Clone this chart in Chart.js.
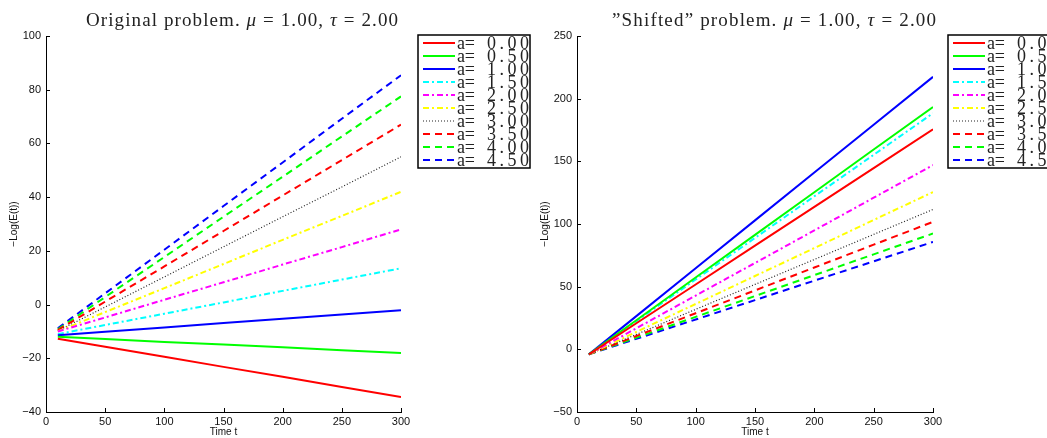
<!DOCTYPE html>
<html>
<head>
<meta charset="utf-8">
<script src="https://cdn.jsdelivr.net/npm/chart.js@4/dist/chart.umd.min.js"></script>
<style>
  html, body { margin: 0; padding: 0; background: #fff; }
  #wrap { position: relative; width: 1047px; height: 438px; }
  canvas { position: absolute; left: 0; top: 0; }
</style>
</head>
<body>
<div id="wrap">
  <canvas id="leftChart" width="1047" height="438"></canvas>
  <canvas id="rightChart" width="1047" height="438"></canvas>
</div>
<script>
// time samples (t)
const times = [10, 50, 100, 150, 200, 250, 300];
const aValues = ["0.00", "0.50", "1.00", "1.50", "2.00", "2.50", "3.00", "3.50", "4.00", "4.50"];

// Original problem, -Log(E(t))
const orig000 = [-12.7, -15.7, -19.4, -23.2, -26.9, -30.7, -34.4];
const orig050 = [-12.0, -12.8, -13.9, -14.9, -15.9, -17.0, -18.0];
const orig100 = [-11.4, -10.1, -8.5, -6.9, -5.3, -3.7, -2.1];
const orig150 = [-11.0, -7.6, -3.4, 0.8, 5.1, 9.3, 13.5];
const orig200 = [-10.0, -4.8, 1.8, 8.3, 14.9, 21.4, 28.0];
const orig250 = [-10.0, -2.8, 6.1, 15.1, 24.1, 33.0, 42.0];
const orig300 = [-9.8, -0.9, 10.3, 21.5, 32.7, 43.8, 55.0];
const orig350 = [-9.5, 1.1, 14.2, 27.4, 40.6, 53.8, 67.0];
const orig400 = [-9.2, 2.8, 17.7, 32.7, 47.6, 62.6, 77.5];
const orig450 = [-8.8, 4.2, 20.4, 36.7, 52.9, 69.2, 85.4];

// "Shifted" problem, -Log(E(t))
const shift000 = [-4, 20.8, 51.7, 82.7, 113.7, 144.6, 175.6];
const shift050 = [-4, 23.2, 57.3, 91.3, 125.3, 159.4, 193.4];
const shift100 = [-4, 26.5, 64.7, 102.9, 141.1, 179.2, 217.4];
const shift150 = [-4, 22.5, 55.7, 88.9, 122.1, 155.2, 188.4];
const shift200 = [-4, 16.8, 42.9, 68.9, 94.9, 121.0, 147.0];
const shift250 = [-4, 13.9, 36.2, 58.5, 80.8, 103.2, 125.5];
const shift300 = [-4, 11.9, 31.9, 51.8, 71.7, 91.7, 111.6];
const shift350 = [-4, 10.6, 28.8, 47.0, 65.3, 83.5, 101.7];
const shift400 = [-4, 9.3, 25.9, 42.5, 59.2, 75.8, 92.4];
const shift450 = [-4, 8.4, 23.8, 39.3, 54.8, 70.2, 85.7];

const origSeries = [orig000, orig050, orig100, orig150, orig200, orig250, orig300, orig350, orig400, orig450];
const shiftSeries = [shift000, shift050, shift100, shift150, shift200, shift250, shift300, shift350, shift400, shift450];

// matlab-ish line styles: '-', '-.', ':', '--'
const styles = [
  { color: "#ff0000", dash: [], width: 2 },
  { color: "#00ff00", dash: [], width: 2 },
  { color: "#0000ff", dash: [], width: 2 },
  { color: "#00ffff", dash: [6, 3, 2, 3], width: 2 },
  { color: "#ff00ff", dash: [6, 3, 2, 3], width: 2 },
  { color: "#ffff00", dash: [6, 3, 2, 3], width: 2 },
  { color: "#222222", dash: [1, 2], width: 1.2 },
  { color: "#ff0000", dash: [7, 5], width: 2 },
  { color: "#00ff00", dash: [7, 5], width: 2 },
  { color: "#0000ff", dash: [7, 5], width: 2 },
];

const TICK_FONT = { family: "'Liberation Sans', Arial, sans-serif", size: 11 };
const SERIF = "'Liberation Serif', 'DejaVu Serif', serif";

function makeDatasets(series) {
  return series.map((vals, i) => ({
    label: "a= " + aValues[i],
    data: vals.map((v, j) => ({ x: times[j], y: v })),
    borderColor: styles[i].color,
    borderDash: styles[i].dash,
    borderWidth: styles[i].width,
    pointRadius: 0,
    tension: 0,
    fill: false,
  }));
}

// draw text pieces spread to fill a given width
function drawSpaced(ctx, parts, x0, x1, baseline, size) {
  let raw = 0, n = 0;
  parts.forEach(p => {
    ctx.font = (p.italic ? "italic " : "") + size + "px " + SERIF;
    for (const ch of p.t) { raw += ctx.measureText(ch).width; n++; }
  });
  const gap = n > 1 ? (x1 - x0 - raw) / (n - 1) : 0;
  let x = x0;
  ctx.textBaseline = "alphabetic";
  ctx.textAlign = "left";
  parts.forEach(p => {
    ctx.font = (p.italic ? "italic " : "") + size + "px " + SERIF;
    for (const ch of p.t) {
      ctx.fillText(ch, x, baseline);
      x += ctx.measureText(ch).width + gap;
    }
  });
}

function decorPlugin(cfg) {
  return {
    id: "decor",
    afterDraw(chart) {
      const ctx = chart.ctx;
      const { x: xs, y: ys } = chart.scales;
      const area = chart.chartArea;
      ctx.save();
      // inward tick marks
      ctx.strokeStyle = "#000";
      ctx.lineWidth = 1;
      ctx.beginPath();
      xs.ticks.forEach(t => {
        const px = Math.round(xs.getPixelForValue(t.value)) + 0.5;
        ctx.moveTo(px, area.bottom);
        ctx.lineTo(px, area.bottom - 4);
      });
      ys.ticks.forEach(t => {
        const py = Math.round(ys.getPixelForValue(t.value)) + 0.5;
        ctx.moveTo(area.left, py);
        ctx.lineTo(area.left + 4, py);
      });
      ctx.stroke();

      // title
      ctx.fillStyle = "#222";
      drawSpaced(ctx, cfg.title, cfg.titleX0, cfg.titleX1, 26, 19);

      // axis titles
      ctx.font = "10px 'Liberation Sans', Arial, sans-serif";
      ctx.fillStyle = "#111";
      ctx.textAlign = "center";
      ctx.textBaseline = "middle";
      ctx.fillText("Time t", (area.left + area.right) / 2, 432);
      ctx.save();
      ctx.translate(cfg.yTitleX, 224);
      ctx.rotate(-Math.PI / 2);
      ctx.fillText("\u2212Log(E(t))", 0, 0);
      ctx.restore();

      // legend box
      const lx = cfg.legendX, ly = 35, lw = 112, lh = 133;
      ctx.fillStyle = "#fff";
      ctx.fillRect(lx, ly, lw, lh);
      ctx.strokeStyle = "#000";
      ctx.lineWidth = 1.5;
      ctx.strokeRect(lx, ly, lw, lh);
      ctx.save();
      ctx.beginPath();
      ctx.rect(lx, ly, lw - 1, lh);
      ctx.clip();
      chart.data.datasets.forEach((ds, i) => {
        const yy = 43 + i * 13;
        ctx.strokeStyle = ds.borderColor;
        ctx.lineWidth = ds.borderWidth;
        ctx.setLineDash(ds.borderDash);
        ctx.beginPath();
        ctx.moveTo(lx + 5, yy);
        ctx.lineTo(lx + 37, yy);
        ctx.stroke();
        ctx.setLineDash([]);
        ctx.fillStyle = "#222";
        drawSpaced(ctx, [{ t: "a=" }], lx + 39, lx + 57, yy + 6, 18);
        drawSpaced(ctx, [{ t: aValues[i] }], lx + 69, lx + 111, yy + 6, 18);
      });
      ctx.restore();
      ctx.restore();
    },
  };
}

function makeChart(id, series, opts) {
  return new Chart(document.getElementById(id), {
    type: "line",
    data: { datasets: makeDatasets(series) },
    options: {
      responsive: false,
      animation: false,
      layout: { padding: { left: opts.padLeft, right: opts.padRight, top: 36, bottom: 0 } },
      plugins: { legend: { display: false }, tooltip: { enabled: false }, title: { display: false } },
      scales: {
        x: {
          type: "linear",
          min: 0,
          max: 300,
          ticks: { stepSize: 50, font: TICK_FONT, color: "#111", padding: 3, maxRotation: 0 },
          grid: { display: false, drawTicks: false },
          border: { display: true, color: "#000", width: 1 },
          afterFit: s => { s.height = 26; },
        },
        y: {
          min: opts.yMin,
          max: opts.yMax,
          ticks: {
            stepSize: opts.yStep,
            font: TICK_FONT,
            color: "#111",
            padding: 5,
            callback: v => String(v).replace("-", "\u2212"),
          },
          grid: { display: false, drawTicks: false },
          border: { display: true, color: "#000", width: 1 },
          afterFit: s => { s.width = opts.yWidth; },
        },
      },
    },
    plugins: [decorPlugin(opts)],
  });
}

makeChart("leftChart", origSeries, {
  padLeft: 0, padRight: 646, yWidth: 46,
  yMin: -40, yMax: 100, yStep: 20,
  title: [{ t: "Original problem. " }, { t: "\u03bc", italic: true }, { t: " = 1.00, " }, { t: "\u03c4", italic: true }, { t: " = 2.00" }],
  titleX0: 86, titleX1: 398, yTitleX: 14, legendX: 418,
});

makeChart("rightChart", shiftSeries, {
  padLeft: 535, padRight: 114, yWidth: 42,
  yMin: -50, yMax: 250, yStep: 50,
  title: [{ t: "\u201dShifted\u201d problem. " }, { t: "\u03bc", italic: true }, { t: " = 1.00, " }, { t: "\u03c4", italic: true }, { t: " = 2.00" }],
  titleX0: 612, titleX1: 936, yTitleX: 545, legendX: 948,
});
</script>
</body>
</html>
